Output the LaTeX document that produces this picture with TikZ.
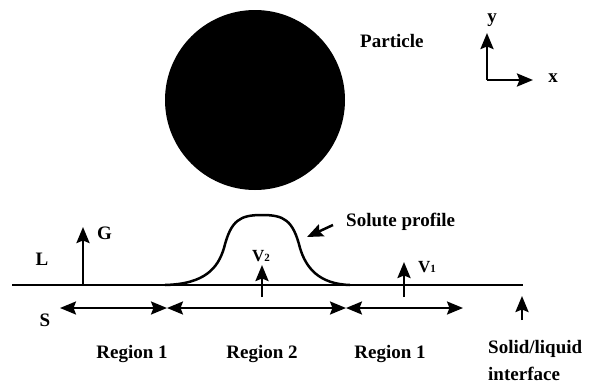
\documentclass[tikz,border=0pt]{standalone}
\usepackage{fontspec}
\setmainfont{Liberation Serif}
\usetikzlibrary{arrows.meta}
\begin{document}
\begin{tikzpicture}[x=1pt, y=-1pt,
	label node/.style={font=\fontsize{19}{21}\selectfont\bfseries, inner sep=0pt},
	small node/.style={font=\fontsize{17}{19}\selectfont\bfseries, inner sep=0pt},
	arr/.style={line width=2.5pt, -{Stealth[length=16pt, width=13pt, inset=2.5pt]}},
	dblarr/.style={line width=2.2pt, {Stealth[length=16pt, width=13pt, inset=2.5pt]}-{Stealth[length=16pt, width=13pt, inset=2.5pt]}}
	]
	\useasboundingbox (0,0) rectangle (607,383);
	% particle
	\fill (255,100) circle (90);
	\node[label node, anchor=base west] (part) at (360,47) {Particle};
	% axes
	\coordinate (O) at (487,80);
	\coordinate (Ytip) at (487,33);
	\coordinate (Xtip) at (533,80);
	\draw[arr] (O) -- (Ytip);
	\draw[arr] (O) -- (Xtip);
	\node[label node, anchor=base] (ylbl) at (492,22) {y};
	\node[label node, anchor=base] (xlbl) at (553,82) {x};
	% interface
	\coordinate (IL) at (12,285);
	\coordinate (IR) at (523,285);
	\draw[line width=2.7pt] (IL) -- (IR);
	\draw[line width=2.5pt] (165,285) .. controls (205,284) and (218,268) .. (224,248)
		.. controls (231,220) and (240,215) .. (262,215)
		.. controls (284,215) and (293,220) .. (300,248)
		.. controls (306,268) and (319,284) .. (350,285);
	\node[label node, anchor=base] (L) at (42,265) {L};
	\node[label node, anchor=base] (S) at (45,326) {S};
	% gradient and velocities
	\coordinate (G0) at (83,285);
	\coordinate (G1) at (83,227);
	\draw[arr] (G0) -- (G1);
	\node[label node, anchor=base west] (G) at (97,239) {G};
	\coordinate (V20) at (262,297);
	\coordinate (V21) at (262,265);
	\draw[arr] (V20) -- (V21);
	\node[small node, anchor=base west] (V2) at (252,261) {V{\fontsize{11}{11}\selectfont 2}};
	\coordinate (V10) at (404,297);
	\coordinate (V11) at (404,262);
	\draw[arr] (V10) -- (V11);
	\node[small node, anchor=base west] (V1) at (418,272) {V{\fontsize{11}{11}\selectfont 1}};
	% solute profile
	\node[label node, anchor=base west] (sol) at (346,226) {Solute profile};
	\coordinate (solA) at (333,225);
	\coordinate (solB) at (307,237);
	\draw[arr] (solA) -- (solB);
	% regions
	\coordinate (R0) at (60,308);
	\coordinate (R1) at (167,308);
	\coordinate (R2) at (346,308);
	\coordinate (R3) at (463,308);
	\draw[dblarr] (R0) -- (R1);
	\draw[dblarr] (R1) -- (R2);
	\draw[dblarr] (R2) -- (R3);
	\node[label node, anchor=base] (reg1a) at (132,358) {Region 1};
	\node[label node, anchor=base] (reg2) at (262,358) {Region 2};
	\node[label node, anchor=base] (reg1b) at (390,358) {Region 1};
	% solid/liquid interface
	\coordinate (SL0) at (522,320);
	\coordinate (SL1) at (522,296);
	\draw[arr] (SL0) -- (SL1);
	\node[label node, anchor=base west] (sl1) at (488,353) {Solid/liquid};
	\node[label node, anchor=base west] (sl2) at (488,380) {interface};
\end{tikzpicture}
\end{document}
